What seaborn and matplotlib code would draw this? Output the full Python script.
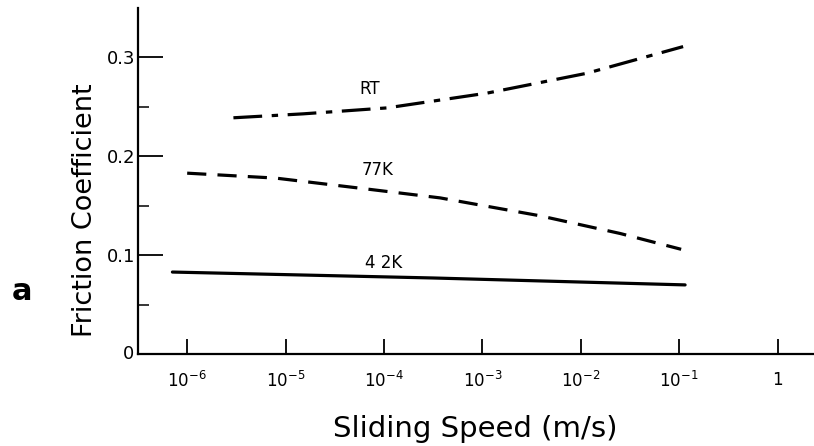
import numpy as np
import pandas as pd
import seaborn as sns
import matplotlib
matplotlib.use("Agg")
import matplotlib.pyplot as plt
from matplotlib.ticker import FixedLocator, NullFormatter

# Data (speed in m/s, friction coefficient)
rt_speed = [10**-5.53, 10**-4.82, 10**-3.97, 10**-2.95, 10**-1.94, 10**-0.96]
rt_mu = [0.239, 0.243, 0.249, 0.264, 0.284, 0.311]
k77_speed = [10**-6.0, 10**-5.1, 10**-4.26, 10**-3.43, 10**-2.42, 10**-1.6, 10**-0.98]
k77_mu = [0.183, 0.178, 0.168, 0.158, 0.140, 0.122, 0.106]
k42_speed = [10**-6.15, 10**-3.5, 10**-0.94]
k42_mu = [0.083, 0.077, 0.070]

xtick_vals = [1e-6, 1e-5, 1e-4, 1e-3, 1e-2, 1e-1, 1]
xtick_labels = ["$10^{-6}$", "$10^{-5}$", "$10^{-4}$", "$10^{-3}$", "$10^{-2}$", "$10^{-1}$", "1"]
ytick_vals = [0.1, 0.2, 0.3]
ytick_labels = ["0.1", "0.2", "0.3"]

df = pd.concat([
    pd.DataFrame({"speed": rt_speed, "mu": rt_mu, "T": "RT"}),
    pd.DataFrame({"speed": k77_speed, "mu": k77_mu, "T": "77K"}),
    pd.DataFrame({"speed": k42_speed, "mu": k42_mu, "T": "4.2K"}),
])

sns.set_style("ticks")
plt.rcParams["font.family"] = ["DejaVu Sans"]
for k in ["text.color", "axes.labelcolor", "xtick.color", "ytick.color", "axes.edgecolor"]:
    plt.rcParams[k] = "black"

fig = plt.figure(figsize=(8.14, 4.46), dpi=100)
ax = fig.add_axes([0.1695, 0.206, 0.8305, 0.776])

styles = {"RT": (0, (9, 3, 2, 3)), "77K": (0, (6, 3.5)), "4.2K": "-"}
for name, sub in df.groupby("T", sort=False):
    sns.lineplot(data=sub, x="speed", y="mu", ax=ax, color="black",
                 linewidth=2.3, linestyle=styles[name], legend=False)

ax.set_xscale("log")
ax.set_xlim(10**-6.5, 10**0.37)
ax.set_ylim(0, 0.35)

for sp in ["top", "right"]:
    ax.spines[sp].set_visible(False)
ax.spines["left"].set_linewidth(1.6)
ax.spines["bottom"].set_linewidth(1.6)

ax.xaxis.set_major_locator(FixedLocator(xtick_vals))
ax.xaxis.set_minor_locator(FixedLocator([]))
ax.set_xticklabels(xtick_labels)
ax.tick_params(axis="x", which="major", direction="in", length=11, width=1.3,
               labelsize=12, pad=12)

ax.yaxis.set_major_locator(FixedLocator(ytick_vals))
ax.yaxis.set_minor_locator(FixedLocator([0.05, 0.15, 0.25]))
ax.yaxis.set_minor_formatter(NullFormatter())
ax.set_yticklabels(ytick_labels)
ax.tick_params(axis="y", which="major", direction="in", length=18, width=1.3,
               labelsize=13, pad=2)
ax.tick_params(axis="y", which="minor", direction="in", length=8, width=1.1)

ax.text(-0.005, 0.0, "0", transform=ax.transAxes, ha="right", va="center", fontsize=13)

ax.set_xlabel("Sliding Speed (m/s)", fontsize=21)
ax.xaxis.set_label_coords(0.4985, -0.175)
ax.set_ylabel("Friction Coefficient", fontsize=19.5)
ax.yaxis.label.set_verticalalignment("center")
ax.yaxis.set_label_coords(-0.078, 0.416)

ax.text(10**-4.15, 0.268, "RT", fontsize=12, ha="center", va="center")
ax.text(10**-4.07, 0.186, "77K", fontsize=12, ha="center", va="center")
ax.text(10**-4.0, 0.092, "4 2K", fontsize=12, ha="center", va="center")

fig.text(22 / 814, 1 - 292 / 446, "a", fontsize=22, fontweight="bold", ha="center", va="center")

fig.savefig("out.png", dpi=100)
